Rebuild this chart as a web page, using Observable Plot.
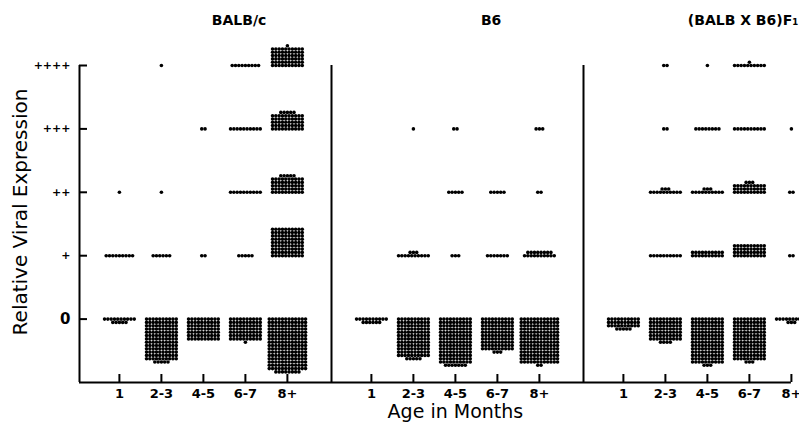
<!DOCTYPE html>
<html><head><meta charset="utf-8">
<script src="https://cdn.jsdelivr.net/npm/d3@7"></script>
<script src="https://cdn.jsdelivr.net/npm/@observablehq/plot@0.6"></script>
<style>body{margin:0;background:#fff} #chart svg{display:block}</style>
</head><body><div id="chart"></div>
<script>
const strains = ["BALB/c", "B6", "(BALB X B6)F\u2081"];
const ages = ["1", "2-3", "4-5", "6-7", "8+"];
const levels = ["0", "+", "++", "+++", "++++"];
// number of mice per level (rows: 0, +, ++, +++, ++++) and age (columns)
const balbcCounts = [
  [15, 135, 70, 71, 200],
  [9, 6, 2, 5, 90],
  [1, 1, 0, 10, 55],
  [0, 0, 2, 10, 55],
  [0, 1, 0, 9, 61]
];
const b6Counts = [
  [16, 125, 147, 103, 170],
  [0, 13, 3, 7, 18],
  [0, 0, 5, 5, 2],
  [0, 1, 2, 0, 3],
  [0, 0, 0, 0, 0]
];
const f1Counts = [
  [35, 74, 143, 133, 13],
  [0, 10, 20, 40, 2],
  [0, 13, 13, 33, 2],
  [0, 2, 8, 10, 1],
  [0, 2, 1, 11, 0]
];
const strainCounts = [balbcCounts, b6Counts, f1Counts];

const PANEL = 6, FIRST = 0.95;
const PX_X = 42, PX_Y = 63.4;
const SX = 3.3 / PX_X, SY = 3.3 / PX_Y;
const dots = [];
strainCounts.forEach((counts, p) => counts.forEach((row, level) => row.forEach((n, a) => {
  const cols = n > 150 ? 12 : 10;
  const dir = level === 0 ? -1 : 1;
  const cx = p * PANEL + FIRST + a;
  for (let k = 0; k < n; k++) {
    const r = Math.floor(k / cols), j = k - r * cols, m = Math.min(cols, n - r * cols);
    dots.push({strain: strains[p], age: ages[a], level, x: cx + (j - (m - 1) / 2) * SX, y: level + dir * r * SY});
  }
})));

const xTicks = strains.flatMap((s, p) => ages.map((a, i) => ({x: p * PANEL + FIRST + i, label: a})));
const yTicks = levels.map((l, i) => ({level: i, label: l}));
const titles = strains.map((s, p) => ({x: p * PANEL + 3.8, label: s}));

const chart = Plot.plot({
  width: 799, height: 425,
  marginLeft: 79, marginRight: 0, marginTop: 65, marginBottom: 43,
  x: {domain: [0, 720 / PX_X], axis: null},
  y: {domain: [-1, 4], axis: null},
  style: {fontFamily: "DejaVu Sans", background: "white", color: "black"},
  marks: [
    Plot.ruleX([0, PANEL, 2 * PANEL], {y1: -1, y2: 4, strokeWidth: 2}),
    Plot.ruleY([-1], {x1: 0, x2: 2 * PANEL + FIRST + 4, strokeWidth: 2}),
    Plot.ruleX(xTicks, {x: "x", y1: -1, y2: -1 + 8 / PX_Y, strokeWidth: 2}),
    Plot.ruleY(yTicks, {y: "level", x1: 0, x2: 8 / PX_X, strokeWidth: 2}),
    Plot.text(yTicks, {x: 0, y: "level", text: "label", textAnchor: "end", dx: -9,
      fontSize: d => d.level === 0 ? 15 : 11, fontWeight: "bold"}),
    Plot.text(xTicks, {x: "x", y: -1, text: "label", dy: 11, fontSize: 13, fontWeight: "bold"}),
    Plot.text(titles, {x: "x", y: 4, text: "label", dy: -45, fontSize: 14, fontWeight: "bold"}),
    Plot.text(["Age in Months"], {x: PANEL + FIRST + 2, y: -1, dy: 29, fontSize: 19}),
    Plot.text(["Relative Viral Expression"], {frameAnchor: "left", textAnchor: "middle", dx: -59, dy: -12, rotate: -90, fontSize: 20}),
    Plot.dot(dots, {x: "x", y: "y", r: 1.8, fill: "black"})
  ]
});
document.getElementById("chart").append(chart);
</script>
</body></html>
